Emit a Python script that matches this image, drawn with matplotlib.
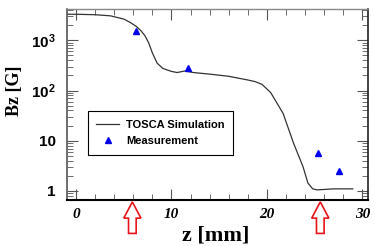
import matplotlib
matplotlib.use("Agg")
import matplotlib.pyplot as plt
import matplotlib.transforms as mtransforms
from matplotlib.patches import Polygon
from matplotlib.ticker import FixedLocator, FixedFormatter, MultipleLocator, LogLocator, NullFormatter
import numpy as np

plt.rcParams['mathtext.fontset'] = 'custom'
plt.rcParams['mathtext.rm'] = 'Liberation Sans:bold'
plt.rcParams['mathtext.bf'] = 'Liberation Sans:bold'

# TOSCA simulation curve
sim_z = [-1, 0, 2, 3.6, 5, 5.7, 6.3, 6.8, 7.2, 7.6, 8.0, 8.5, 9.1, 10, 10.6, 11.4, 12.3, 14, 16,
         18.0, 18.8, 19.5, 20.4, 20.9, 21.7, 22.8, 23.8, 24.3, 24.8, 25.3, 26, 27, 28, 29.0]
sim_b = [3300, 3300, 3230, 3070, 2650, 2250, 1900, 1550, 1250, 900, 560, 350, 275, 240, 228, 245,
         228, 212, 192, 162, 150, 132, 91, 63, 35, 8.9, 3.0, 1.44, 1.1, 1.05, 1.07, 1.1, 1.1, 1.1]

# Measurements
meas_z = [6.3, 11.75, 25.4, 27.6]
meas_b = [1550, 287, 5.6, 2.5]

# Arrow positions (z, mm)
arrow_z = [5.9, 25.6]

ytick_vals = [1, 10, 100, 1000]
ytick_labels = ['1', '10', r'$\mathbf{10^2}$', r'$\mathbf{10^3}$']
xtick_vals = [0, 10, 20, 30]

fig = plt.figure(figsize=(3.74, 2.46), dpi=100)
ax = fig.add_axes([67/374, 1 - 200/246, (368-67)/374, (200-9)/246])

ax.plot(sim_z, sim_b, color='#333333', lw=0.9, label='TOSCA Simulation')
ax.plot(meas_z, meas_b, linestyle='none', marker='^', color='#0000ee', ms=5, label='Measurement')

ax.set_yscale('log')
ax.set_xlim(-0.95, 30.6)
ax.set_ylim(0.66, 4200)

ax.yaxis.set_major_locator(FixedLocator(ytick_vals))
ax.yaxis.set_major_formatter(FixedFormatter(ytick_labels))
ax.yaxis.set_minor_locator(LogLocator(base=10, subs=np.arange(2, 10)))
ax.yaxis.set_minor_formatter(NullFormatter())
ax.xaxis.set_major_locator(FixedLocator(xtick_vals))
ax.xaxis.set_minor_locator(MultipleLocator(2))

ax.tick_params(which='both', direction='in', top=True, right=True, color='#555555')
ax.tick_params(which='major', length=8, width=0.8)
ax.tick_params(which='minor', length=4, width=0.6)
ax.tick_params(axis='y', which='major', labelsize=11, pad=8)
ax.tick_params(axis='x', which='major', labelsize=11, pad=6)

for lbl in ax.get_yticklabels():
    lbl.set_fontfamily('Liberation Sans')
    lbl.set_fontweight('bold')
for lbl in ax.get_xticklabels():
    lbl.set_fontfamily('Liberation Serif')
    lbl.set_fontweight('bold')
    lbl.set_fontstyle('italic')

ax.spines['bottom'].set_linewidth(1.5)
ax.spines['bottom'].set_color('black')
ax.spines['left'].set_linewidth(1.2)
ax.spines['left'].set_color('#555555')
ax.spines['top'].set_linewidth(1.0)
ax.spines['top'].set_color('#888888')
ax.spines['right'].set_linewidth(1.2)
ax.spines['right'].set_color('#222222')

ax.set_xlabel('z [mm]', fontfamily='Liberation Serif', fontweight='bold', fontsize=16)
ax.xaxis.set_label_coords(0.495, -0.213)
ax.xaxis.label.set_va('baseline')
ax.set_ylabel('Bz [G]', fontfamily='Liberation Serif', fontweight='bold', fontsize=13)
ax.yaxis.set_label_coords(-0.173, 0.57)
ax.yaxis.label.set_va('center')

leg = ax.legend(loc='upper left', bbox_to_anchor=(0.07, 0.465), frameon=True, fancybox=False,
                edgecolor='black', framealpha=1, prop={'family': 'Liberation Sans', 'weight': 'bold', 'size': 8},
                handlelength=2.0, borderpad=0.75, labelspacing=0.6, handletextpad=0.7, borderaxespad=0)
leg.get_frame().set_linewidth(0.8)

# hollow red up arrows below the axis
trans = mtransforms.blended_transform_factory(ax.transData, ax.transAxes)
hw, sw = 0.9, 0.4
ytip, yhead, ybot = -0.01, -0.095, -0.175
for az in arrow_z:
    pts = [(az, ytip), (az + hw, yhead), (az + sw, yhead), (az + sw, ybot),
           (az - sw, ybot), (az - sw, yhead), (az - hw, yhead)]
    ax.add_patch(Polygon(pts, closed=True, fill=False, edgecolor='#e8141c', lw=1.2,
                         transform=trans, clip_on=False))

fig.savefig('out.png', dpi=100)
